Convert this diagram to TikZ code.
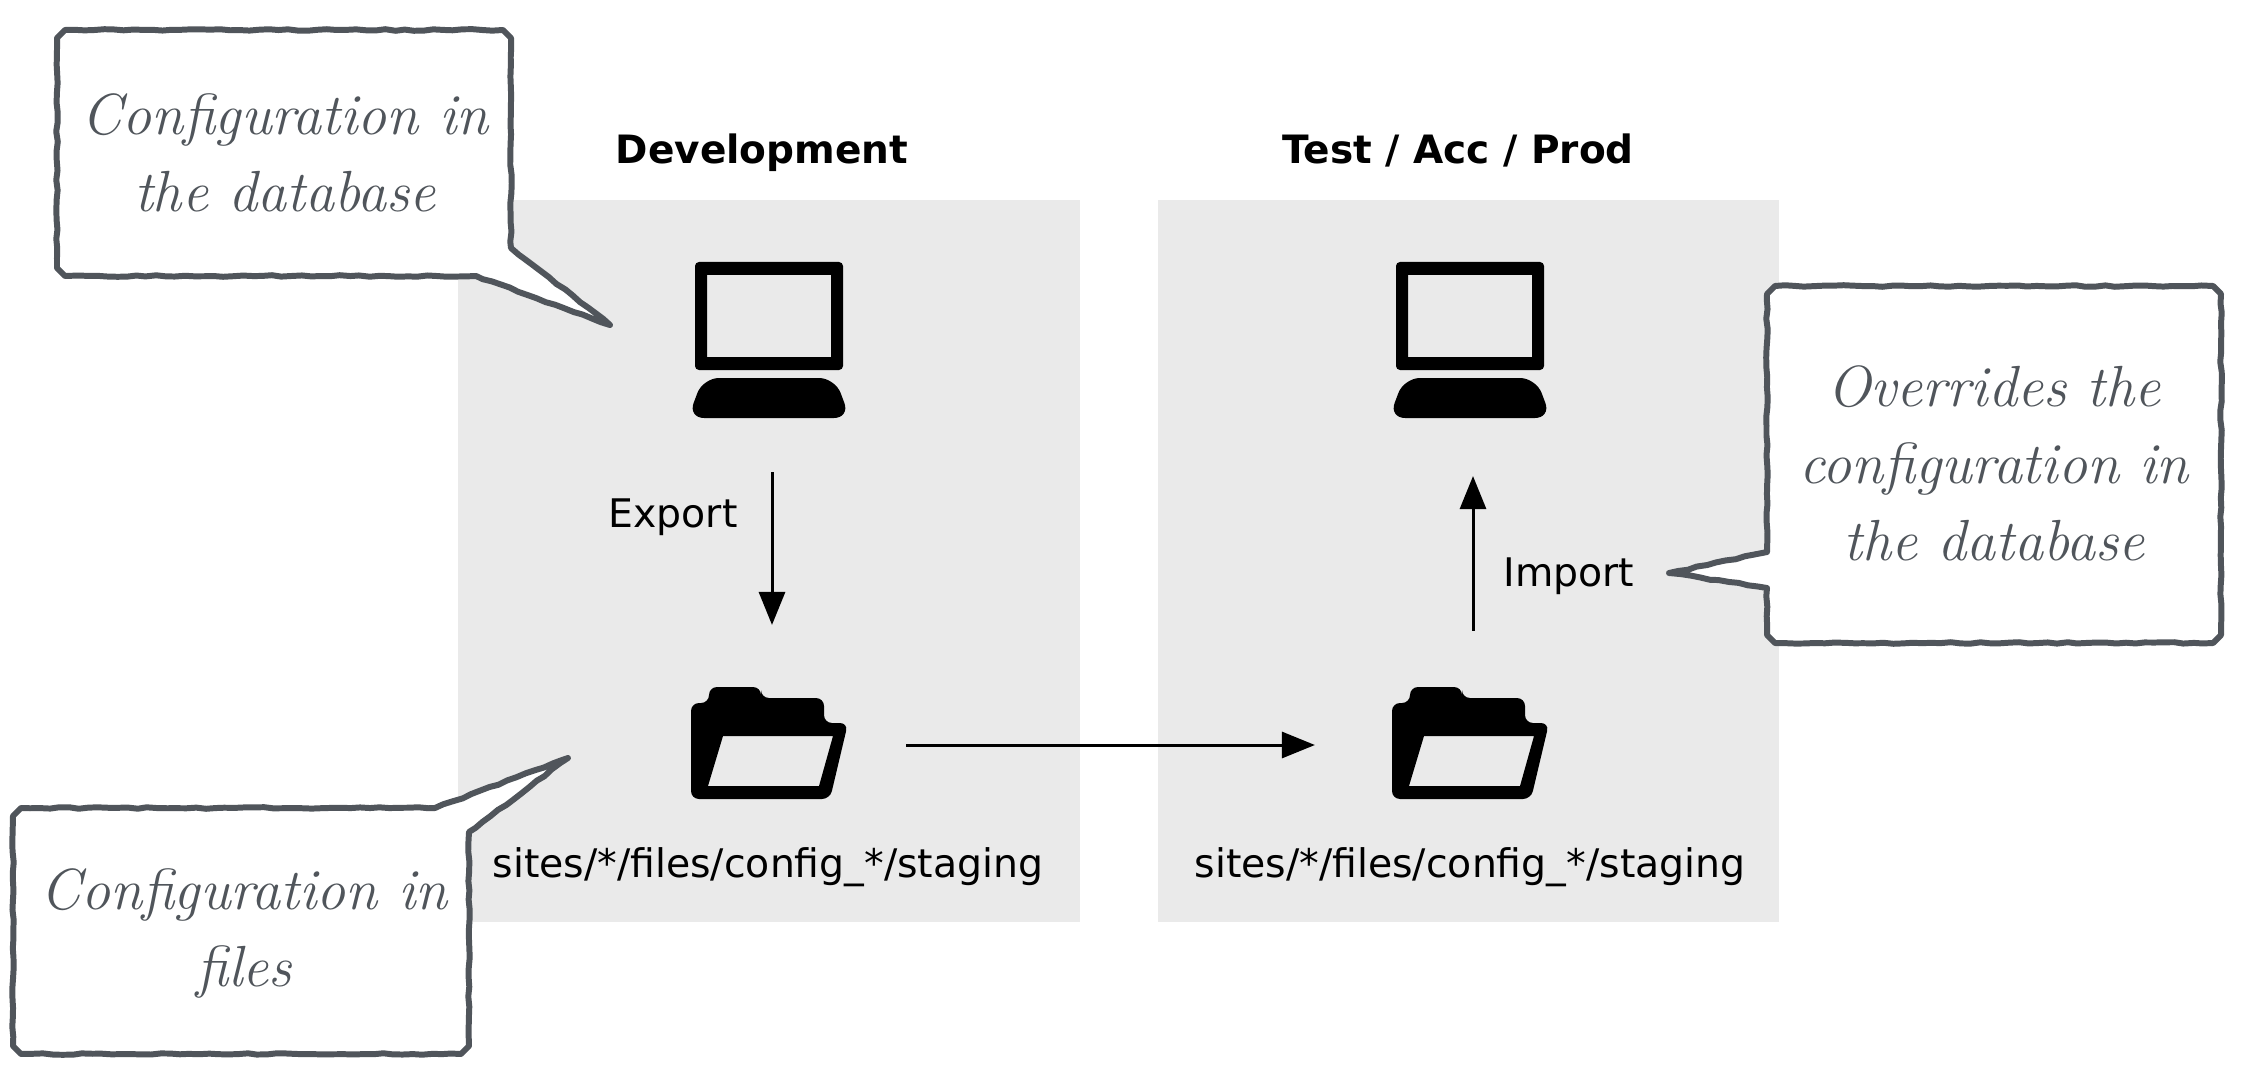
\documentclass[tikz,border=0pt]{standalone}
\usepackage{fontspec}
\setsansfont{DejaVu Sans}
\usetikzlibrary{arrows.meta, backgrounds, decorations.pathmorphing}

\definecolor{panelgrey}{HTML}{EAEAEA}
\definecolor{noteink}{HTML}{50555B}

\tikzset{
    panel/.style={fill=panelgrey, draw=none},
    iconbox/.style={inner sep=0pt, outer sep=0pt, minimum width=2.68cm, minimum height=2.4cm},
    title/.style={font=\sffamily\bfseries\fontsize{11.1}{14}\selectfont, inner sep=0pt, anchor=base},
    plain/.style={font=\sffamily\fontsize{11.2}{13}\selectfont, inner sep=0pt, anchor=base},
    notetext/.style={font=\itshape\fontsize{16.5}{21.9}\selectfont, text=noteink, align=center, inner sep=0pt},
    noteline/.style={draw=noteink, fill=white, line width=1.7pt, line join=round, line cap=round,
        decorate, decoration={random steps, segment length=0.097cm, amplitude=0.008cm}},
    flow/.style={-{Triangle[length=0.33cm, width=0.26cm]}, line width=0.85pt},
    pics/computer/.style={code={
        \fill[even odd rule, rounded corners=0.04cm] (-74,-78) rectangle (74,30) (-62,-65) [sharp corners] rectangle (62,17);
        \fill[rounded corners=0.16cm] (-66,38) -- (66,38) -- (81,78) -- (-81,78) -- cycle;
    }},
    pics/folder/.style={code={
        \fill[even odd rule, rounded corners=0.08cm] (-59,-60) -- (-7,-60) -- (-7,-49) -- (56,-49) -- (56,-24) -- (80,-24)
            -- (62,52) -- (-77,52) -- (-77,-44) -- (-59,-44) -- cycle
            [sharp corners] (-45,-11) -- (65,-11) -- (51,39) -- (-60,39) -- cycle;
    }},
}

\pgfmathsetseed{7}

\begin{document}
\begin{tikzpicture}[x=0.01cm, y=-0.01cm]
\useasboundingbox (0,0) rectangle (2242,1070);

\node (devtitle)   at (762,164)   [title] {Development};
\node (testtitle)  at (1458,164)  [title] {Test / Acc / Prod};

\node (devpc)      at (772,340)   [iconbox, minimum height=2.64cm] {};
\node (devfolder)  at (772,745)   [iconbox] {};
\node (testpc)     at (1473,340)  [iconbox, minimum height=2.64cm] {};
\node (testfolder) at (1473,745)  [iconbox] {};
\pic at (769,340) {computer};
\pic at (768,747) {folder};
\pic at (1470,340) {computer};
\pic at (1469,747) {folder};

\node (devpath)    at (768,877)   [plain] {sites/*/files/config\_*/staging};
\node (testpath)   at (1470,877)  [plain] {sites/*/files/config\_*/staging};
\node (exportlbl)  at (673,527)   [plain] {Export};
\node (importlbl)  at (1569,586)  [plain] {Import};

\draw[flow] (devpc) -- (devfolder);
\draw[flow, shorten >=0.24cm] (devfolder) -- (testfolder);
\draw[flow, shorten >=0.04cm, shorten <=-0.06cm] (testfolder) -- (testpc);

\node (dbtext)     at (285,153)   [notetext] {Configuration in\\the database};
\node (filestext)  at (244,933)   [notetext] {Configuration in\\files};
\node (overtext)   at (1994,463)  [notetext] {Overrides the\\configuration in\\the database};

\coordinate (dbtip)    at (610,325);
\coordinate (filestip) at (568,758);
\coordinate (overtip)  at (1669,573);

% outlines keep small cut corners instead of rounded ones
\begin{pgfonlayer}{background}
\fill[panel] (458,200) rectangle (1080,922);
\fill[panel] (1158,200) rectangle (1779,922);
\path[noteline] (65,30) -- (503,30) -- (511,38) -- (511,248) -- (dbtip) -- (476,276) -- (65,276) -- (57,268) -- (57,38) -- cycle;
\path[noteline] (21,808) -- (435,808) -- (filestip) -- (469,832) -- (469,1046) -- (461,1054) -- (21,1054) -- (13,1046) -- (13,816) -- cycle;
\path[noteline] (1775,286) -- (2213,286) -- (2221,294) -- (2221,635) -- (2213,643) -- (1775,643) -- (1767,635) -- (1767,588) -- (overtip) -- (1767,552) -- (1767,294) -- cycle;
\end{pgfonlayer}
\end{tikzpicture}
\end{document}
